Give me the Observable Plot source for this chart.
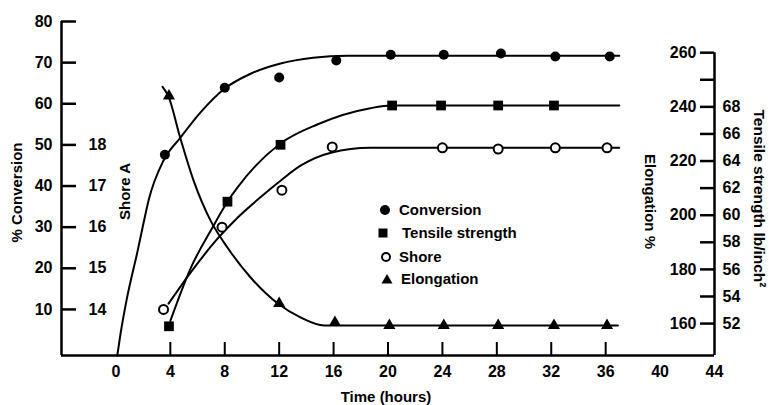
<!DOCTYPE html>
<html><head><meta charset="utf-8">
<script src="https://cdn.jsdelivr.net/npm/d3@7"></script>
<script src="https://cdn.jsdelivr.net/npm/@observablehq/plot@0.6"></script>
<style>
body{margin:0;background:#fff;}
#wrap{position:relative;width:769px;height:405px;overflow:hidden;}
#legend{position:absolute;left:0;top:0;width:769px;height:405px;pointer-events:none;}
#legend text{font:bold 15px "Liberation Sans",Arial,sans-serif;fill:#000;}
</style></head><body><div id="wrap"></div>
<script>
// ---- tick labels ----
const timeTicks = [0, 4, 8, 12, 16, 20, 24, 28, 32, 36, 40, 44];
const timeTickMarks = [4, 8, 12, 16, 20, 24, 28, 32, 36];
const convTicks = [10, 20, 30, 40, 50, 60, 70, 80];
const shoreTicks = [14, 15, 16, 17, 18];
const elongTickMarks = [160, 170, 180, 190, 200, 210, 220, 230, 240, 250, 260];
const elongLabels = [160, 180, 200, 220, 240, 260];
const tensileLabels = [52, 54, 56, 58, 60, 62, 64, 66, 68];

// ---- measured points ----
const convTime = [3.6, 8.0, 12.0, 16.2, 20.2, 24.1, 28.3, 32.3, 36.3];
const convValue = [47.6, 63.9, 66.4, 70.5, 71.9, 71.9, 72.2, 71.5, 71.5];
const tensileTime = [3.9, 8.2, 12.1, 20.3, 23.9, 28.1, 32.2];
const tensileValue = [51.8, 61.0, 65.2, 68.1, 68.1, 68.1, 68.1];
const shoreTime = [3.5, 7.8, 12.2, 15.9, 24.0, 28.1, 32.3, 36.1];
const shoreValue = [14.0, 16.0, 16.9, 17.95, 17.93, 17.9, 17.93, 17.93];
const elongTime = [3.9, 12.0, 16.1, 20.1, 24.1, 28.1, 32.2, 36.1];
const elongValue = [244, 167.4, 160.4, 159.3, 159.3, 159.3, 159.3, 159.3];

// ---- fitted curves ----
const convCurveTime = [0.1, 0.34, 0.78, 1.6, 2.03, 2.4, 3.5, 4.75, 6.22, 8.0, 9.9, 12.1, 14.5, 17.0, 37.0];
const convCurveValue = [-1.2, 4.1, 12.2, 24.3, 31.0, 36.5, 46.2, 51.8, 57.9, 63.7, 67.3, 69.8, 71.2, 71.7, 71.7];
const tensileCurveTime = [4.0, 5.5, 7.1, 8.2, 8.9, 12.1, 14.8, 18.7, 20.3, 37.0];
const tensileCurveValue = [52.2, 56.1, 59.1, 61.0, 62.0, 65.3, 66.7, 67.9, 68.1, 68.1];
const shoreCurveTime = [3.87, 5.5, 7.47, 8.94, 10.6, 12.1, 13.6, 15.8, 18.7, 37.0];
const shoreCurveValue = [14.14, 14.9, 15.72, 16.23, 16.72, 17.13, 17.5, 17.81, 17.93, 17.93];
const elongCurveTime = [3.43, 3.87, 4.68, 5.71, 6.96, 8.21, 9.9, 11.9, 13.6, 15.3, 17.2, 36.9];
const elongCurveValue = [247.4, 243.8, 229.4, 212.8, 198.0, 188.0, 177.0, 167.4, 162.2, 159.3, 159.3, 159.3];

// secondary axes expressed in % Conversion units (as printed on the chart)
const shoreToConv = s => (s - 13) * 10;
const elongToConv = e => 6.56 + (e - 160) * 0.6586;
const tensileToConv = t => elongToConv(160 + (t - 52) * 5);

const zip = (xs, ys, f) => xs.map((x, i) => ({t: x, v: f(ys[i])}));
const id = d => d;
const convPts = zip(convTime, convValue, id);
const tensilePts = zip(tensileTime, tensileValue, tensileToConv);
const shorePts = zip(shoreTime, shoreValue, shoreToConv);
const elongPts = zip(elongTime, elongValue, elongToConv);
const convCurve = zip(convCurveTime, convCurveValue, id);
const tensileCurve = zip(tensileCurveTime, tensileCurveValue, tensileToConv);
const shoreCurve = zip(shoreCurveTime, shoreCurveValue, shoreToConv);
const elongCurve = zip(elongCurveTime, elongCurveValue, elongToConv);

const yMin = -1.2;
const lineOpts = {x: "t", y: "v", curve: "monotone-x", stroke: "black", strokeWidth: 2};

const chart = Plot.plot({
  width: 769, height: 405,
  marginLeft: 61, marginRight: 55, marginTop: 21, marginBottom: 50,
  x: {domain: [-4, 44], axis: null},
  y: {domain: [yMin, 80], axis: null},
  style: {fontFamily: "'Liberation Sans', Arial, sans-serif", fontSize: "16px", fontWeight: "bold", background: "white", color: "black"},
  marks: [
    // axis frame lines
    Plot.ruleX([-4], {y1: yMin, y2: 80, strokeWidth: 2.5}),
    Plot.ruleX([44], {y1: yMin, y2: elongToConv(260), strokeWidth: 2.5}),
    Plot.ruleY([yMin], {x1: -4, x2: 44, strokeWidth: 2.5}),
    // tick marks
    Plot.tickY(convTicks, {y: id, insetRight: 638, strokeWidth: 2.5}),
    Plot.tickY(elongTickMarks, {y: elongToConv, insetLeft: 639, strokeWidth: 2.5}),
    Plot.tickX(timeTickMarks, {x: id, insetTop: 321, strokeWidth: 2}),
    // tick labels
    Plot.axisX(timeTicks, {tickSize: 0, tickPadding: 10, label: null, fontSize: 16}),
    Plot.axisY(convTicks, {anchor: "left", tickSize: 0, tickPadding: 9, label: null, fontSize: 16}),
    Plot.text(shoreTicks, {y: shoreToConv, text: d => String(d), frameAnchor: "left", dx: 27, textAnchor: "start", fontSize: 16}),
    Plot.text(elongLabels, {y: elongToConv, text: d => String(d), frameAnchor: "right", dx: -18, textAnchor: "end", fontSize: 16}),
    Plot.text(tensileLabels, {y: tensileToConv, text: d => String(d), frameAnchor: "right", dx: 8, textAnchor: "start", fontSize: 16}),
    // axis titles
    Plot.text(["% Conversion"], {frameAnchor: "left", textAnchor: "middle", lineAnchor: "middle", rotate: -90, dx: -44, dy: 4, fontSize: 15}),
    Plot.text(["Shore A"], {frameAnchor: "left", textAnchor: "middle", lineAnchor: "middle", rotate: -90, dx: 64, dy: 3, fontSize: 15}),
    Plot.text(["Elongation %"], {frameAnchor: "right", textAnchor: "middle", lineAnchor: "middle", rotate: 90, dx: -65, dy: 13, fontSize: 15}),
    Plot.text(["Tensile strength lb/inch\u00B2"], {frameAnchor: "right", textAnchor: "middle", lineAnchor: "middle", rotate: 90, dx: 44, dy: 10, fontSize: 15.5}),
    Plot.text(["Time (hours)"], {frameAnchor: "bottom", textAnchor: "middle", lineAnchor: "middle", dx: -2, dy: 42, fontSize: 15}),
    // curves
    Plot.line(convCurve, lineOpts),
    Plot.line(tensileCurve, lineOpts),
    Plot.line(shoreCurve, lineOpts),
    Plot.line(elongCurve, lineOpts),
    // points
    Plot.dot(convPts, {x: "t", y: "v", r: 5, fill: "black", symbol: "circle"}),
    Plot.dot(tensilePts, {x: "t", y: "v", r: 5.5, fill: "black", symbol: "square"}),
    Plot.dot(shorePts, {x: "t", y: "v", r: 4.5, fill: "white", stroke: "black", strokeWidth: 2, symbol: "circle"}),
    Plot.dot(elongPts, {x: "t", y: "v", r: 4.5, fill: "black", symbol: "triangle"})
  ]
});
const wrap = document.getElementById("wrap");
wrap.appendChild(chart);

// legend
const legendNames = ["Conversion", "Tensile strength", "Shore", "Elongation"];
const ns = "http://www.w3.org/2000/svg";
const lg = document.createElementNS(ns, "svg");
lg.setAttribute("id", "legend");
lg.setAttribute("width", 769); lg.setAttribute("height", 405);
const rowY = [210, 233, 257, 279];
const textX = [399, 402, 399, 401];
const symX = [385, 383, 386, 387];
legendNames.forEach((name, i) => {
  let s;
  if (i === 0) { s = document.createElementNS(ns, "circle"); s.setAttribute("cx", symX[i]); s.setAttribute("cy", rowY[i]); s.setAttribute("r", 5); s.setAttribute("fill", "black"); }
  if (i === 1) { s = document.createElementNS(ns, "rect"); s.setAttribute("x", symX[i] - 4.5); s.setAttribute("y", rowY[i] - 4.5); s.setAttribute("width", 9); s.setAttribute("height", 9); s.setAttribute("fill", "black"); }
  if (i === 2) { s = document.createElementNS(ns, "circle"); s.setAttribute("cx", symX[i]); s.setAttribute("cy", rowY[i]); s.setAttribute("r", 4); s.setAttribute("fill", "white"); s.setAttribute("stroke", "black"); s.setAttribute("stroke-width", 2); }
  if (i === 3) { s = document.createElementNS(ns, "path"); const x = symX[i], y = rowY[i]; s.setAttribute("d", `M${x},${y-5}L${x+5.5},${y+4.5}L${x-5.5},${y+4.5}Z`); s.setAttribute("fill", "black"); }
  lg.appendChild(s);
  const t = document.createElementNS(ns, "text");
  t.setAttribute("x", textX[i]); t.setAttribute("y", rowY[i]); t.setAttribute("dy", "0.35em");
  t.textContent = name;
  lg.appendChild(t);
});
wrap.appendChild(lg);
</script></body></html>
